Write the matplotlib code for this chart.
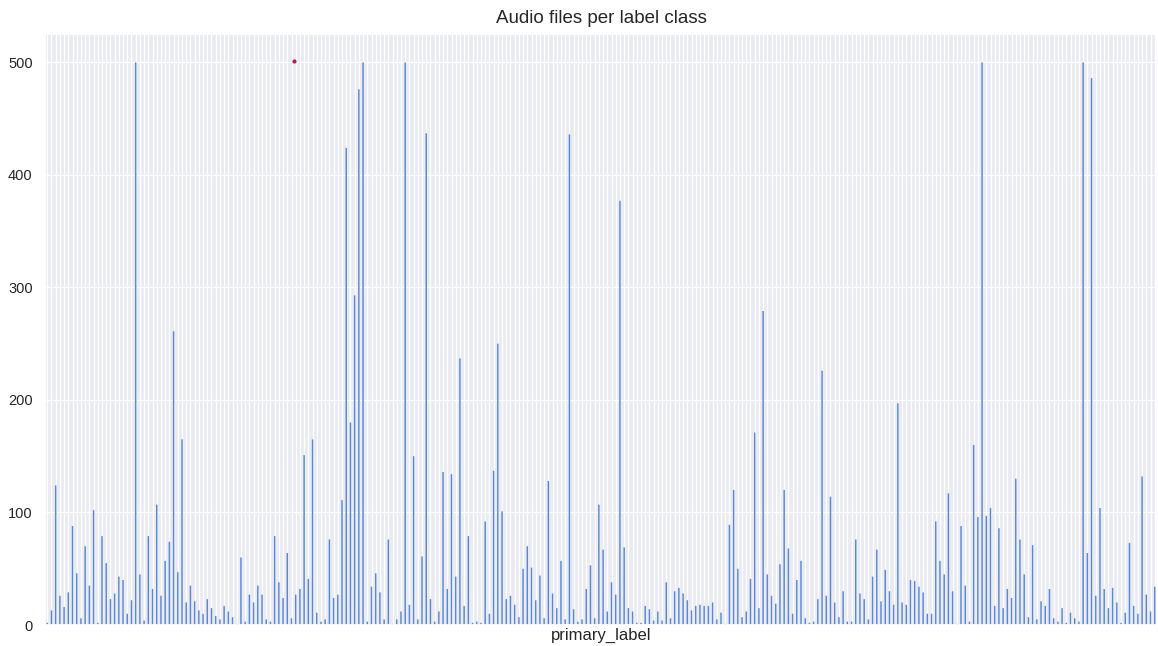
import matplotlib
matplotlib.use("Agg")
import matplotlib.pyplot as plt
import seaborn as sns
import numpy as np

# number of recordings per primary_label (classes in label order)
file_counts = [
    2, 13, 124, 26, 16, 29, 88, 46, 6, 70, 35, 102, 2, 79, 55, 23, 28, 43, 40, 10,
    22, 500, 45, 4, 79, 32, 107, 26, 57, 74, 261, 47, 165, 20, 35, 21, 13, 10, 23, 15,
    8, 5, 17, 12, 7, 1, 60, 3, 27, 20, 35, 27, 5, 3, 79, 38, 24, 64, 6, 27,
    32, 151, 41, 165, 11, 3, 5, 76, 24, 27, 111, 424, 180, 293, 476, 500, 3, 34, 46, 29,
    5, 76, 1, 5, 12, 500, 18, 150, 5, 61, 437, 23, 3, 12, 136, 32, 134, 43, 237, 17,
    79, 2, 3, 2, 92, 10, 137, 250, 101, 23, 26, 18, 7, 50, 70, 51, 22, 44, 6, 128,
    28, 15, 57, 5, 436, 14, 3, 5, 32, 53, 6, 107, 67, 12, 38, 27, 377, 69, 15, 12,
    2, 2, 17, 14, 4, 12, 4, 38, 6, 30, 33, 28, 22, 13, 17, 18, 17, 17, 20, 5,
    11, 1, 89, 120, 50, 7, 12, 41, 171, 15, 279, 45, 26, 19, 54, 120, 68, 10, 40, 57,
    6, 2, 3, 23, 226, 26, 114, 20, 7, 30, 3, 3, 76, 28, 23, 5, 43, 67, 21, 49,
    30, 18, 197, 20, 18, 40, 39, 34, 29, 10, 10, 92, 57, 45, 117, 30, 1, 88, 35, 3,
    160, 96, 500, 97, 104, 17, 86, 15, 32, 24, 130, 76, 45, 7, 71, 5, 21, 17, 32, 6,
    3, 15, 2, 11, 6, 3, 500, 64, 486, 26, 104, 32, 15, 33, 20, 2, 11, 73, 17, 10,
    132, 27, 12, 34,
]
y_ticks = [0, 100, 200, 300, 400, 500]

# stray marker sitting just above the 500 line
dot_x = 58.7
dot_y = 501

sns.set_theme(style="darkgrid")
plt.rcParams["font.family"] = ["Liberation Sans", "DejaVu Sans"]

fig = plt.figure(figsize=(11.58, 6.46), dpi=100)
ax = fig.add_axes([0.039, 0.0325, 0.96, 0.9145])

positions = np.arange(len(file_counts))
bars = ax.bar(positions, file_counts, width=0.35, color="#5a88d4", linewidth=0)
for b in bars:
    b.set_snap(False)
ax.scatter([dot_x], [dot_y], s=9, color="#c2185b", zorder=5, linewidths=0)

ax.set_xlim(-0.5, len(file_counts) - 0.5)
ax.set_ylim(0, 525)
ax.set_xticks(positions)
ax.set_xticklabels([])
ax.set_yticks(y_ticks)
ax.tick_params(axis="x", length=0, pad=0)
ax.tick_params(axis="y", length=0, pad=9, labelsize=10.5)
ax.grid(True, color="white", linewidth=0.9)

ax.set_title("Audio files per label class", fontsize=13.5, pad=8)
ax.set_xlabel("primary_label", fontsize=12, labelpad=2)

fig.savefig("out.png", dpi=100)
